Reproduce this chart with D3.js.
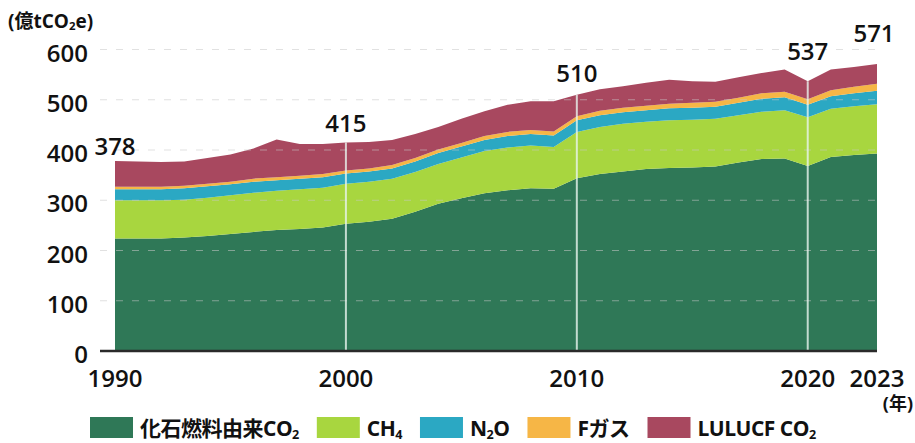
<!DOCTYPE html>
<html>
<head>
<meta charset="utf-8">
<script src="https://cdn.jsdelivr.net/npm/d3@7"></script>
<style>
  body { margin: 0; background: #fff; }
  text { font-family: "Open Sans", "Noto Sans CJK JP", sans-serif; }
</style>
</head>
<body>
<script>
// 世界の温室効果ガス排出量 (億tCO2e)
const years = d3.range(1990, 2024)

const fossil = [224,224,224,226,229,233,237,241,243,246,253,257,263,277,293,304,314,320,324,323,344,352,357,362,364,365,367,375,382,383,368,386,390,393]
const ch4    = [76,76,76,75,76,77,78,78,79,79,80,80,80,79,79,81,84,85,85,83,92,94,95,94,95,95,95,94,94,96,97,96,97,98]
const n2o    = [22,22,22,23,23,22,22,21,21,21,20,20,20,21,22,22,22,23,23,23,23,23,23,23,24,24,24,25,26,26,25,25,26,27]
const fgas   = [5,5,5,5,5,5,6,6,6,6,6,6,7,7,7,7,8,8,8,8,8,9,9,9,9,10,10,10,11,11,11,12,13,14]
const lulucf = [51,50,49,48,51,54,60,75,63,60,56,53,50,48,45,48,49,54,57,60,43,43,43,46,48,43,40,41,40,44,36,41,39,39]

const keys = ["fossil", "ch4", "n2o", "fgas", "lulucf"]
const legendLabels = [["化石燃料由来CO", "2"], ["CH", "4"], ["N", "2", "O"], ["Fガス"], ["LULUCF CO", "2"]]
const colors = ["#2f7857", "#a8d63f", "#2ba8c3", "#f6b646", "#a8485f"]

const yTicks = [0, 100, 200, 300, 400, 500, 600]
const xTicks = [1990, 2000, 2010, 2020, 2023]
const markYears = [2000, 2010, 2020]
const labelYears = [1990, 2000, 2010, 2020, 2023]
const labelValues = [378, 415, 510, 537, 571]
const labelLift = [6, 10, 13, 21, 22]

const W = 915, H = 443

const x = d3.scaleLinear().domain([1990, 2023]).range([115, 877])
const y = d3.scaleLinear().domain([0, 600]).range([351, 49.5])

const rows = years.map((yr, i) => ({
  year: yr, fossil: fossil[i], ch4: ch4[i], n2o: n2o[i], fgas: fgas[i], lulucf: lulucf[i]
}))
const series = d3.stack().keys(keys)(rows)

const svg = d3.select("body").append("svg")
  .attr("width", W)
  .attr("height", H)

// stacked areas
const area = d3.area()
  .x(d => x(d.data.year))
  .y0(d => y(d[0]))
  .y1(d => y(d[1]))

svg.append("g").selectAll("path")
  .data(series)
  .join("path")
  .attr("fill", (d, i) => colors[i])
  .attr("d", area)

// grid
svg.append("g").selectAll("line")
  .data(yTicks.filter(t => t > 0))
  .join("line")
  .attr("x1", 100).attr("x2", 877)
  .attr("y1", d => y(d)).attr("y2", d => y(d))
  .attr("stroke", "#c8c8c8")
  .attr("stroke-opacity", 0.55)
  .attr("stroke-width", 1.2)
  .attr("stroke-dasharray", "7,9")

// white year markers inside the areas
const topLayer = series[series.length - 1]
svg.append("g").selectAll("line")
  .data(markYears)
  .join("line")
  .attr("x1", d => x(d)).attr("x2", d => x(d))
  .attr("y1", y(0))
  .attr("y2", d => y(topLayer[years.indexOf(d)][1]))
  .attr("stroke", "#e8f4ee")
  .attr("stroke-opacity", 0.8)
  .attr("stroke-width", 2)

// baseline
svg.append("line")
  .attr("x1", 100).attr("x2", x(2023))
  .attr("y1", y(0)).attr("y2", y(0))
  .attr("stroke", "#2a2a2a")
  .attr("stroke-width", 2.5)

// y axis labels
svg.append("g").selectAll("text")
  .data(yTicks)
  .join("text")
  .attr("x", 88)
  .attr("y", d => y(d) + 12)
  .attr("text-anchor", "end")
  .attr("font-size", 24)
  .attr("font-weight", 600)
  .attr("fill", "#111")
  .text(d => d)

// x axis labels
svg.append("g").selectAll("text")
  .data(xTicks)
  .join("text")
  .attr("x", d => x(d))
  .attr("y", 387)
  .attr("text-anchor", "middle")
  .attr("font-size", 24)
  .attr("font-weight", 600)
  .attr("fill", "#111")
  .text(d => d)

// value labels
svg.append("g").selectAll("text")
  .data(labelValues)
  .join("text")
  .attr("x", (d, i) => x(labelYears[i]) - (labelYears[i] === 2023 ? 3 : 0))
  .attr("y", (d, i) => y(d) - labelLift[i])
  .attr("text-anchor", "middle")
  .attr("font-size", 24)
  .attr("font-weight", 600)
  .attr("fill", "#111")
  .text(d => d)

// text with subscripts: parts alternate normal / sub
function subText(sel, parts, size) {
  parts.forEach((p, i) => {
    const sub = i % 2 === 1
    sel.append("tspan")
      .attr("font-size", sub ? size * 0.6 : size)
      .attr("dy", sub ? size * 0.12 : (i > 0 ? -size * 0.12 : 0))
      .text(p)
  })
}

// unit
const unit = svg.append("text")
  .attr("x", 8).attr("y", 28)
  .attr("font-weight", 700)
  .attr("fill", "#111")
  .attr("font-family", "'Noto Sans CJK JP', sans-serif")
subText(unit, ["(億tCO", "2", "e)"], 19)

svg.append("text")
  .attr("x", 913).attr("y", 410)
  .attr("text-anchor", "end")
  .attr("font-size", 18)
  .attr("font-weight", 700)
  .attr("fill", "#111")
  .attr("font-family", "'Noto Sans CJK JP', sans-serif")
  .text("(年)")

// legend
const lg = svg.append("g")
let lx = 90
legendLabels.forEach((parts, i) => {
  lg.append("rect")
    .attr("x", lx).attr("y", 417)
    .attr("width", 43).attr("height", 21)
    .attr("fill", colors[i])
  const t = lg.append("text")
    .attr("x", lx + 50).attr("y", 436)
    .attr("font-weight", 700)
    .attr("fill", "#111")
    .attr("font-family", "'Noto Sans CJK JP', sans-serif")
    .attr("letter-spacing", -0.5)
  subText(t, parts, 21)
  lx += 50 + t.node().getComputedTextLength() + 18
})
</script>
</body>
</html>
